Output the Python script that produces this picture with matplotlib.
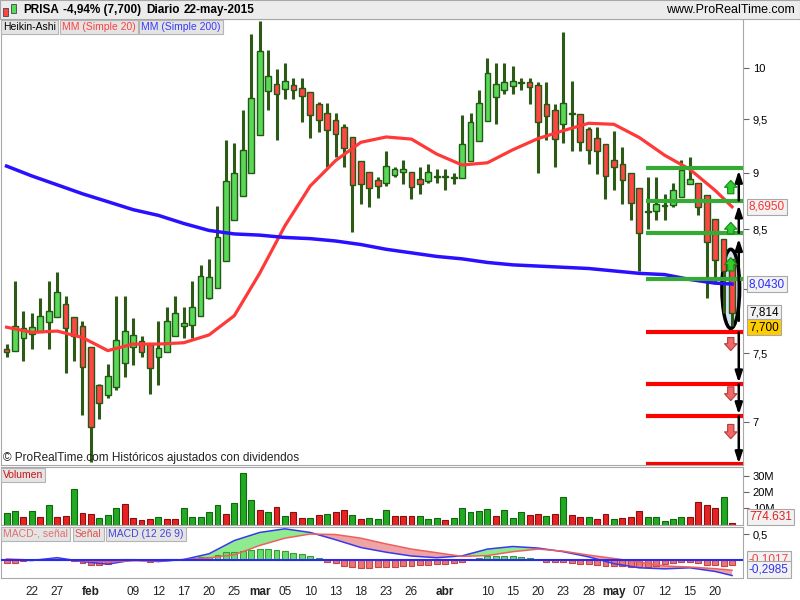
import matplotlib
matplotlib.use('Agg')
import matplotlib.pyplot as plt
from matplotlib.patches import Rectangle, Ellipse
import numpy as np

plt.rcParams['font.family'] = ['Liberation Sans', 'DejaVu Sans']

# Heikin-Ashi velas diarias (19-ene-2015 .. 22-may-2015)
ha_open = [7.53, 7.52, 7.62, 7.65, 7.66, 7.74, 7.78, 7.88, 7.78, 7.71,
           7.55, 7.26, 7.19, 7.25, 7.43, 7.55, 7.59, 7.57, 7.47, 7.51,
           7.63, 7.71, 7.72, 7.79, 7.93, 8.01, 8.23, 8.58, 8.79, 9.00,
           9.35, 9.77, 9.84, 9.79, 9.83, 9.80, 9.76, 9.65, 9.56, 9.49,
           9.42, 9.33, 9.11, 9.01, 8.93, 8.91, 8.98, 9.01, 9.01, 8.94,
           8.92, 8.96, 8.97, 8.95, 8.95, 9.11, 9.29, 9.48, 9.71, 9.78,
           9.82, 9.85, 9.86, 9.83, 9.65, 9.59, 9.45, 9.55, 9.55, 9.41,
           9.32, 9.26, 9.12, 9.08, 9.00, 8.86, 8.65, 8.66, 8.70, 8.71,
           8.78, 8.90, 8.91, 8.80, 8.59, 8.42, 8.25]
ha_high = [7.57, 8.07, 7.83, 7.81, 7.93, 8.07, 8.14, 7.95, 7.78, 7.75,
           7.55, 7.27, 7.42, 7.95, 7.95, 7.77, 7.63, 7.57, 7.75, 7.86,
           7.95, 7.86, 8.07, 8.20, 8.25, 8.70, 9.30, 9.27, 9.59, 10.35,
           10.49, 10.19, 9.99, 10.05, 9.90, 9.90, 9.76, 9.67, 9.66, 9.56,
           9.45, 9.33, 9.11, 9.01, 8.96, 9.20, 9.05, 9.12, 9.01, 9.05,
           9.08, 9.03, 9.03, 9.00, 9.54, 9.56, 9.78, 10.10, 10.05, 10.05,
           10.02, 9.90, 9.90, 9.86, 9.86, 9.65, 10.37, 9.87, 9.55, 9.42,
           9.42, 9.26, 9.39, 9.24, 9.00, 8.86, 8.96, 8.96, 8.81, 8.91,
           9.12, 9.14, 8.91, 8.80, 8.59, 8.42, 8.25]
ha_low = [7.47, 7.52, 7.44, 7.53, 7.66, 7.53, 7.78, 7.35, 7.44, 7.05,
          6.72, 7.02, 7.17, 7.23, 7.32, 7.41, 7.47, 7.20, 7.26, 7.51,
          7.63, 7.62, 7.62, 7.79, 7.92, 8.01, 8.23, 8.58, 8.79, 9.00,
          9.35, 9.59, 9.30, 9.69, 9.69, 9.47, 9.32, 9.38, 9.05, 9.14,
          9.05, 8.48, 8.72, 8.69, 8.77, 8.88, 8.96, 8.90, 8.76, 8.81,
          8.91, 8.91, 8.84, 8.90, 8.95, 9.11, 9.29, 9.48, 9.45, 9.74,
          9.74, 9.78, 9.65, 9.00, 9.30, 9.05, 9.27, 9.20, 9.20, 9.08,
          8.99, 8.76, 8.84, 8.72, 8.58, 8.15, 8.50, 8.58, 8.58, 8.69,
          8.78, 8.90, 8.62, 7.93, 8.05, 7.81, 7.71]
ha_close = [7.51, 7.71, 7.69, 7.70, 7.79, 7.83, 7.98, 7.69, 7.63, 7.40,
            6.96, 7.13, 7.33, 7.60, 7.67, 7.64, 7.51, 7.39, 7.54, 7.75,
            7.81, 7.73, 7.86, 8.11, 8.10, 8.43, 8.92, 9.00, 9.21, 9.70,
            10.18, 9.92, 9.74, 9.87, 9.78, 9.72, 9.54, 9.49, 9.40, 9.36,
            9.23, 8.89, 8.90, 8.86, 8.88, 9.06, 9.03, 9.03, 8.87, 8.90,
            9.01, 8.97, 8.96, 8.96, 9.26, 9.47, 9.66, 9.95, 9.84, 9.86,
            9.87, 9.86, 9.81, 9.47, 9.53, 9.31, 9.66, 9.56, 9.28, 9.21,
            9.20, 8.97, 9.05, 8.93, 8.73, 8.47, 8.66, 8.72, 8.71, 8.84,
            9.02, 8.94, 8.69, 8.39, 8.24, 8.15, 7.814]
last_close = 7.700

# medias moviles (leidas cada 3 sesiones)
ma_idx = [0, 3, 6, 9, 12, 15, 18, 21, 24, 27, 30, 33, 36, 39, 42, 45, 48, 51,
          54, 57, 60, 63, 66, 69, 72, 75, 78, 81, 84, 86]
ma20 = [7.70, 7.66, 7.67, 7.62, 7.52, 7.57, 7.57, 7.58, 7.64, 7.79, 8.13, 8.53,
        8.88, 9.11, 9.28, 9.33, 9.31, 9.17, 9.07, 9.09, 9.21, 9.315, 9.39, 9.46,
        9.45, 9.325, 9.16, 9.03, 8.84, 8.695]
ma200 = [9.06, 8.97, 8.89, 8.81, 8.74, 8.67, 8.62, 8.55, 8.49, 8.46, 8.45, 8.43,
         8.42, 8.40, 8.37, 8.33, 8.30, 8.27, 8.25, 8.22, 8.20, 8.19, 8.18, 8.17,
         8.15, 8.13, 8.12, 8.08, 8.05, 8.043]

# volumen (millones)
vol = [7.0, 8.2, 4.5, 8.2, 4.5, 12.0, 4.5, 5.3, 22.0, 7.0,
       6.3, 3.9, 5.7, 10.1, 12.8, 3.9, 2.6, 3.2, 4.5, 3.2,
       3.2, 10.1, 4.5, 4.5, 7.6, 12.0, 6.3, 13.2, 32.4, 15.1,
       8.9, 7.6, 10.7, 5.1, 7.6, 3.9, 3.9, 5.7, 6.3, 7.6,
       8.9, 5.7, 3.2, 3.9, 3.2, 8.9, 5.1, 5.1, 5.1, 5.1,
       3.2, 3.9, 2.6, 3.9, 10.1, 7.6, 8.2, 9.5, 5.1, 8.9,
       3.9, 7.6, 5.7, 6.3, 5.1, 6.3, 17.0, 5.7, 4.5, 4.5,
       3.2, 6.3, 3.2, 3.9, 4.5, 8.2, 4.5, 4.5, 2.0, 3.2,
       4.5, 4.5, 13.9, 12.0, 10.1, 17.0, 0.774631]
vol_up = "ggrgrgrrgrrgggrrrrgrrgggggrgggrgrgrrgrgrrgrgggrrrgggrgggggrgggrrgrgrrgrrgrrrgggggrrrrgr"

# MACD (12 26 9)
macd = [0.01, -0.01, 0.045, -0.03, -0.08, 0.0, -0.03, 0.01, 0.12, 0.375, 0.53, 0.60,
        0.53, 0.39, 0.24, 0.15, 0.077, 0.044, 0.08, 0.21, 0.26, 0.23, 0.16, 0.06,
        -0.07, -0.15, -0.17, -0.15, -0.22, -0.2985]
signal = [0.02, 0.0, 0.01, -0.015, -0.035, -0.015, -0.015, 0.005, 0.04, 0.10, 0.28,
          0.42, 0.50, 0.49, 0.42, 0.31, 0.21, 0.14, 0.07, 0.085, 0.16, 0.21, 0.17,
          0.094, 0.03, -0.04, -0.115, -0.135, -0.167, -0.1968]
hist = [-0.06, -0.05, -0.01, 0.0, 0.01, 0.01, 0.01, 0.0, -0.02, -0.06,
        -0.10, -0.10, -0.08, 0.0, 0.02, 0.02, 0.0, -0.03, 0.0, 0.02,
        0.02, 0.025, 0.045, 0.05, 0.065, 0.10, 0.15, 0.16, 0.18, 0.20,
        0.22, 0.22, 0.19, 0.18, 0.14, 0.12, 0.07, 0.045, -0.04, -0.06,
        -0.12, -0.14, -0.16, -0.16, -0.14, -0.13, -0.13, -0.12, -0.12, -0.10,
        -0.10, -0.08, -0.08, -0.06, -0.03, 0.0, 0.045, 0.07, 0.07, 0.07,
        0.07, 0.06, 0.03, 0.0, -0.04, -0.04, -0.04, -0.06, -0.08, -0.08,
        -0.10, -0.12, -0.12, -0.12, -0.13, -0.14, -0.14, -0.12, -0.08, -0.06,
        -0.03, -0.03, -0.06, -0.10, -0.10, -0.12, -0.1017]

# niveles dibujados a mano
green_levels = [9.04, 8.75, 8.47, 8.08]
red_levels = [7.66, 7.27, 7.04, 6.71]

tick_idx = [3, 6, 10, 15, 18, 21, 24, 27, 30, 33, 36, 39, 42, 45, 48, 52,
            57, 60, 63, 66, 69, 72, 75, 78, 81, 84]
tick_lbl = ['22', '27', 'feb', '09', '12', '17', '20', '25', 'mar', '05', '10',
            '13', '18', '23', '26', 'abr', '10', '15', '20', '23', '28', 'may',
            '07', '12', '15', '20']
months = ['feb', 'mar', 'abr', 'may']

o = np.array(ha_open); h = np.array(ha_high)
l = np.array(ha_low); c = np.array(ha_close)
n = len(c)
x = np.arange(n)

W, H = 800, 600
fig = plt.figure(figsize=(8, 6), dpi=100)


def px_axes(left, top, right, bottom):
    return fig.add_axes([left / W, 1 - bottom / H, (right - left) / W, (bottom - top) / H])


ax = px_axes(1, 19, 743, 465)
axv = px_axes(1, 467, 743, 525)
axm = px_axes(1, 527, 743, 578)
for a in (ax, axv, axm):
    for s in a.spines.values():
        s.set_color('#a8a8a8')
    a.set_xlim(-0.66, 87.3)
    a.yaxis.tick_right()
    a.tick_params(axis='y', length=4, labelsize=8, color='#666666', pad=3)
    a.tick_params(axis='x', length=0, labelbottom=False)

# --- precio ---
up = c >= o
ax.vlines(x, l, h, color='#2d5a16', lw=2.2, zorder=3)
ax.bar(x, np.maximum(o, c) - np.minimum(o, c), bottom=np.minimum(o, c), width=0.68,
       color=np.where(up, '#5ad85a', '#ff4545'), edgecolor='#235a12', lw=1.0, zorder=3.5)
ax.plot(ma_idx, ma20, color='#ff3838', lw=2.3, zorder=4)
ax.plot(ma_idx, ma200, color='#2a10ff', lw=2.5, zorder=4)

ax.set_yscale('log')
ax.set_ylim(6.70, 10.51)
ax.set_yticks([7, 7.5, 8, 8.5, 9, 9.5, 10], labels=['7', '7,5', '8', '8,5', '9', '9,5', '10'])
ax.minorticks_off()

x0 = 75.8
for lv in green_levels:
    ax.plot([x0, 87.3], [lv, lv], color='#35aa35', lw=3, zorder=5, solid_capstyle='butt')
for lv in red_levels:
    ax.plot([x0, 87.3], [lv, lv], color='#ff0000', lw=3, zorder=5, solid_capstyle='butt')

ell_c = (h[-1] + l[-1]) / 2 + 0.03
ell = Ellipse((x[-1] - 0.15, ell_c), 2.1, (h[-1] - l[-1]) + 0.1,
              fc='#d4e2f4', ec='black', lw=2.5, zorder=2)
ax.add_patch(ell)

xa = x[-1] + 0.8
arr = dict(arrowstyle='-|>,head_length=0.55,head_width=0.18', color='black', lw=1.8,
           mutation_scale=12, shrinkA=0, shrinkB=0)
ax.annotate('', xy=(xa, green_levels[0] - 0.02), xytext=(xa, green_levels[1]), arrowprops=arr, zorder=6)
ax.annotate('', xy=(xa, green_levels[1] - 0.04), xytext=(xa, green_levels[2]), arrowprops=arr, zorder=6)
ax.annotate('', xy=(xa, green_levels[2] - 0.05), xytext=(xa, l[-1] + 0.04), arrowprops=arr, zorder=6)
ax.annotate('', xy=(xa, red_levels[1] + 0.01), xytext=(xa, red_levels[0]), arrowprops=arr, zorder=6)
ax.annotate('', xy=(xa, red_levels[2] + 0.01), xytext=(xa, red_levels[1]), arrowprops=arr, zorder=6)
ax.annotate('', xy=(xa, red_levels[3]), xytext=(xa, red_levels[2]), arrowprops=arr, zorder=6)

xb = x[-1] - 0.15
garr = dict(arrowstyle='simple,head_length=0.55,head_width=1.0,tail_width=0.5',
            fc='#30cc30', ec='#138a13', lw=0.8, mutation_scale=9, shrinkA=0, shrinkB=0)
rarr = dict(arrowstyle='simple,head_length=0.55,head_width=1.0,tail_width=0.5',
            fc='#ee6a6a', ec='#bb3a3a', lw=0.8, mutation_scale=9, shrinkA=0, shrinkB=0)
for y0, y1 in [(8.81, 8.93), (8.46, 8.56), (8.15, 8.26)]:
    ax.annotate('', xy=(xb, y1), xytext=(xb, y0), arrowprops=garr, zorder=7)
for y0, y1 in [(7.62, 7.52), (7.25, 7.15), (6.98, 6.88)]:
    ax.annotate('', xy=(xb, y1), xytext=(xb, y0), arrowprops=rarr, zorder=7)


def tag(axis, y, s, fc, tc, va='center'):
    axis.text(1.008, y, s, transform=axis.get_yaxis_transform(), fontsize=8.5, color=tc,
              va=va, ha='left', clip_on=False, zorder=10,
              bbox=dict(boxstyle='square,pad=0.18', fc=fc, ec='#a8a8a8', lw=0.8))


def fmt(v, d):
    return f'{v:.{d}f}'.replace('.', ',')


tag(ax, ma20[-1], fmt(ma20[-1], 4), '#f2f2f2', '#ff3030')
tag(ax, ma200[-1], fmt(ma200[-1], 4), '#f2f2f2', '#2a2aff')
tag(ax, c[-1], fmt(c[-1], 3), '#f2f2f2', 'black')
tag(ax, last_close, fmt(last_close, 3), '#ffcc00', 'black')

ax.text(0.003, 0.016, '© ProRealTime.com Históricos ajustados con dividendos',
        transform=ax.transAxes, fontsize=8.5, color='#222222', va='center', zorder=8)

# --- volumen ---
vcol = ['#22aa22' if s == 'g' else '#e82222' for s in vol_up]
vedge = ['#116611' if s == 'g' else '#881010' for s in vol_up]
axv.bar(x, vol, width=0.7, color=vcol, edgecolor=vedge, lw=0.8)
axv.set_ylim(-0.3, 35.9)
axv.set_yticks([10, 20, 30], labels=['10M', '20M', '30M'])
tag(axv, vol[-1], f'{vol[-1] * 1000:.3f}', '#f2f2f2', '#e02020', va='bottom')

# --- MACD ---
mi = np.array(ma_idx)
mc = np.array(macd); sg = np.array(signal)
axm.fill_between(mi, mc, sg, where=mc >= sg, interpolate=True, color='#90ea90', lw=0)
axm.fill_between(mi, mc, sg, where=mc < sg, interpolate=True, color='#eea4a4', lw=0)
hv = np.array(hist)
axm.bar(x, hv, width=0.7, color=np.where(hv >= 0, '#66dd66', '#ee7474'),
        edgecolor=np.where(hv >= 0, '#3a9a3a', '#c04848'), lw=0.8, zorder=3)
axm.plot(mi, mc, color='#3838ee', lw=1.1, zorder=4)
axm.plot(mi, sg, color='#ee6060', lw=1.1, zorder=4)
axm.axhline(0, color='#2a2aee', lw=1.5, zorder=4)
axm.set_ylim(-0.346, 0.635)
axm.set_yticks([0.5], labels=['0,5'])
tag(axm, hist[-1], fmt(hist[-1], 4), '#f2f2f2', '#ee4444', va='bottom')
tag(axm, macd[-1], fmt(macd[-1], 4), '#f2f2f2', '#3333ee', va='bottom')

axm.set_xticks(tick_idx, labels=tick_lbl)
axm.tick_params(axis='x', length=0, labelbottom=True, labelsize=8.5, pad=6, labelcolor='#222222')
for t in axm.get_xticklabels():
    if t.get_text() in months:
        t.set_fontweight('bold')

# --- cabecera y leyendas ---
fig.patches.append(Rectangle((0, 1 - 19 / H), 1, 19 / H, transform=fig.transFigure,
                             fc='#ececec', ec='#a8a8a8', lw=0.8, zorder=0))
fig.patches.append(Rectangle((3 / W, 1 - 16 / H), 5 / W, 8 / H, transform=fig.transFigure,
                             fc='#ff4545', ec='#444444', lw=0.6))
fig.patches.append(Rectangle((11 / W, 1 - 13 / H), 5 / W, 9 / H, transform=fig.transFigure,
                             fc='#5ad85a', ec='#444444', lw=0.6))
hy = 1 - 10 / H
fig.text(23 / W, hy, 'PRISA', fontsize=8.5, fontweight='bold', va='center')
fig.text(63 / W, hy, '-4,94% (7,700)', fontsize=8.5, fontweight='bold', va='center')
fig.text(146 / W, hy, 'Diario', fontsize=8.5, fontweight='bold', va='center')
fig.text(184 / W, hy, '22-may-2015', fontsize=8.5, fontweight='bold', va='center')
fig.text(795 / W, hy, 'www.ProRealTime.com', fontsize=9, ha='right', va='center')

box = dict(boxstyle='square,pad=0.2', fc='#e4e4e4', ec='#b4b4b4', lw=0.8)
ly = 1 - 27 / H
fig.text(3 / W, ly, 'Heikin-Ashi', fontsize=7.5, va='center', color='black', bbox=box)
fig.text(62 / W, ly, 'MM (Simple 20)', fontsize=7.5, va='center', color='#ff4040', bbox=box)
fig.text(141 / W, ly, 'MM (Simple 200)', fontsize=7.5, va='center', color='#3a3aff', bbox=box)
fig.text(3 / W, 1 - 475 / H, 'Volumen', fontsize=7.5, va='center', color='#cc1010', bbox=box)
my = 1 - 534 / H
fig.text(3 / W, my, 'MACD-, señal', fontsize=7.5, va='center', color='#e07070', bbox=box)
fig.text(75 / W, my, 'Señal', fontsize=7.5, va='center', color='#e05050', bbox=box)
fig.text(108 / W, my, 'MACD (12 26 9)', fontsize=7.5, va='center', color='#4444dd', bbox=box)

fig.savefig('out.png', dpi=100)
